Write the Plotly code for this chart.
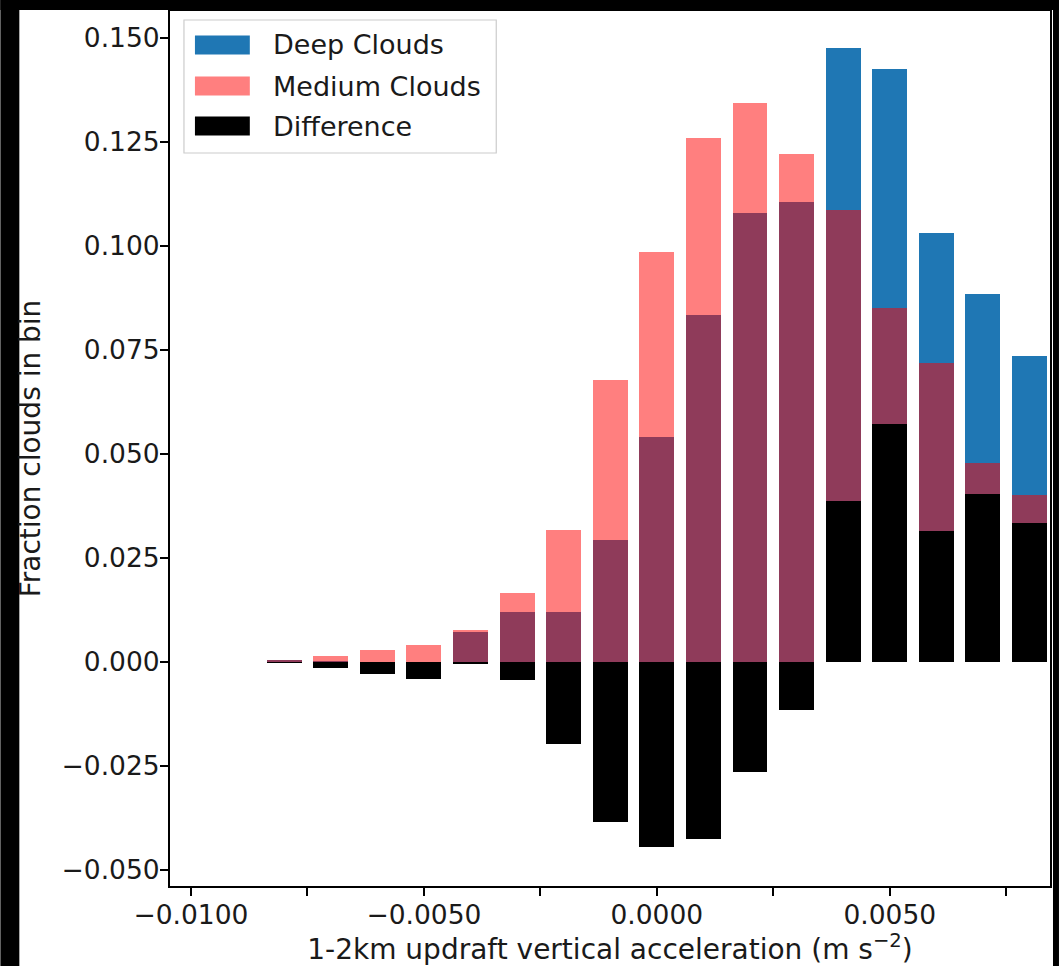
import plotly.graph_objects as go

# ---- data ----
bin_centers = [-0.008, -0.007, -0.006, -0.005, -0.004, -0.003, -0.002, -0.001,
               0.000, 0.001, 0.002, 0.003, 0.004, 0.005, 0.006, 0.007, 0.008]
deep_clouds = [0.0003, 0.0001, 0.0000, 0.0000, 0.0072, 0.0121, 0.0121, 0.0293,
               0.0541, 0.0834, 0.1080, 0.1106, 0.1475, 0.1425, 0.1032, 0.0884, 0.0736]
medium_clouds = [0.0005, 0.0015, 0.0028, 0.0040, 0.0078, 0.0165, 0.0317, 0.0678,
                 0.0986, 0.1260, 0.1344, 0.1221, 0.1087, 0.0852, 0.0718, 0.0479, 0.0401]
difference = [-0.0002, -0.0015, -0.0028, -0.0040, -0.0006, -0.0044, -0.0196, -0.0385,
              -0.0445, -0.0426, -0.0264, -0.0116, 0.0388, 0.0573, 0.0314, 0.0405, 0.0335]

series_names = ["Deep Clouds", "Medium Clouds", "Difference"]
series_colors = ["#1f77b4", "rgba(255,0,0,0.5)", "#000000"]

y_tick_vals = [-0.050, -0.025, 0.000, 0.025, 0.050, 0.075, 0.100, 0.125, 0.150]
y_tick_text = ["\u22120.050", "\u22120.025", "0.000", "0.025", "0.050",
               "0.075", "0.100", "0.125", "0.150"]
x_tick_vals = [-0.0100, -0.0075, -0.0050, -0.0025, 0.0000, 0.0025, 0.0050, 0.0075]
x_tick_text = ["\u22120.0100", " ", "\u22120.0050", " ", "0.0000", " ", "0.0050", " "]

# ---- layout geometry (pixels) ----
W, H = 1061, 966
PL, PR, PT, PB = 170, 1052, 11, 886
pw, ph = PR - PL, PB - PT

def px(x):
    return (x - PL) / pw

def py(y):
    return (PB - y) / ph

FONT = "DejaVu Sans"
TICK_SIZE = 26.5
LABEL_SIZE = 28
TXT = "#1a1a1a"
BAR_W = 0.00075

fig = go.Figure()
for name, vals, col in zip(series_names, [deep_clouds, medium_clouds, difference], series_colors):
    fig.add_trace(go.Bar(x=bin_centers, y=vals, name=name, width=BAR_W,
                         marker=dict(color=col, line=dict(width=0)),
                         showlegend=False))

shapes = []
# black frame around the picture
for x0, x1, y0, y1 in [(0, 19, 0, H), (0, W, 0, 10), (1055, W, 0, H)]:
    shapes.append(dict(type="rect", xref="paper", yref="paper",
                       x0=px(x0), x1=px(x1), y0=py(y1), y1=py(y0),
                       fillcolor="black", line=dict(width=0), layer="above"))
# legend box
shapes.append(dict(type="rect", xref="paper", yref="paper",
                   x0=px(184), x1=px(497), y0=py(153), y1=py(20),
                   fillcolor="rgba(255,255,255,0.85)", line=dict(color="#cccccc", width=1.2),
                   layer="above"))
annotations = []
legend_rows = [45, 86, 126]
legend_fill = ["#1f77b4", "#ff7f7f", "#000000"]
for yc, name, col in zip(legend_rows, series_names, legend_fill):
    shapes.append(dict(type="rect", xref="paper", yref="paper",
                       x0=px(195), x1=px(250), y0=py(yc + 9.5), y1=py(yc - 9.5),
                       fillcolor=col, line=dict(width=0), layer="above"))
    annotations.append(dict(xref="paper", yref="paper", x=px(271), y=py(yc),
                            text=name, showarrow=False, xanchor="left", yanchor="middle",
                            font=dict(family=FONT, size=27, color=TXT)))

fig.update_layout(
    width=W, height=H,
    margin=dict(l=PL, r=W - PR, t=PT, b=H - PB, pad=0),
    paper_bgcolor="white", plot_bgcolor="white",
    barmode="overlay", bargap=0,
    font=dict(family=FONT, size=TICK_SIZE, color=TXT),
    shapes=shapes, annotations=annotations,
    xaxis=dict(range=[-0.01045, 0.00844], tickvals=x_tick_vals, ticktext=x_tick_text,
               showgrid=False, zeroline=False, showline=True, linecolor="black",
               linewidth=2, mirror=True, ticks="outside", ticklen=8, tickwidth=2,
               tickcolor="black", tickfont=dict(family=FONT, size=TICK_SIZE, color=TXT),
               ticklabelstandoff=-4,
               title=dict(text="1-2km updraft vertical acceleration (m s<sup>\u22122</sup>)",
                          font=dict(family=FONT, size=LABEL_SIZE, color=TXT), standoff=0)),
    yaxis=dict(range=[-0.05385, 0.1565], tickvals=y_tick_vals, ticktext=y_tick_text,
               showgrid=False, zeroline=False, showline=True, linecolor="black",
               linewidth=2, mirror=True, ticks="outside", ticklen=8, tickwidth=2,
               tickcolor="black", tickfont=dict(family=FONT, size=TICK_SIZE, color=TXT),
               ticklabelstandoff=-5,
               title=dict(text="Fraction clouds in bin",
                          font=dict(family=FONT, size=LABEL_SIZE, color=TXT), standoff=13)),
)

fig.write_html("out.html")
